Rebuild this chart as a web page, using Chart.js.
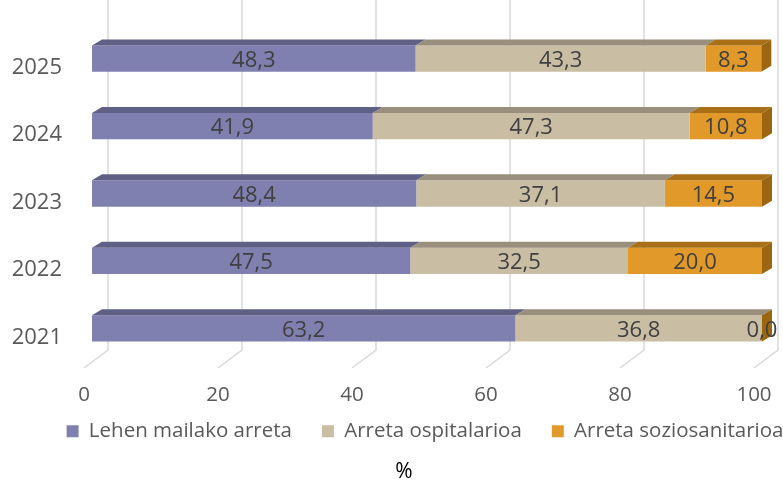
<!DOCTYPE html>
<html>
<head>
<meta charset="utf-8">
<script src="https://cdn.jsdelivr.net/npm/chart.js@4"></script>
<style>
  html, body { margin: 0; padding: 0; background: #fff; }
  #wrap { width: 783px; height: 481px; }
</style>
</head>
<body>
<div id="wrap"><canvas id="Chart-1"></canvas></div>
<script>
const years = ['2025', '2024', '2023', '2022', '2021'];
const lehen = [48.3, 41.9, 48.4, 47.5, 63.2];
const ospitalarioa = [43.3, 47.3, 37.1, 32.5, 36.8];
const soziosanitarioa = [8.3, 10.8, 14.5, 20.0, 0.0];
const xTicks = [0, 20, 40, 60, 80, 100];

const FONT = "'Open Sans', sans-serif";
const DEPTH_X = 10, DEPTH_Y = 6; // fake 3d depth

// legend/title placement tweaks (Excel puts them a bit off-centre)
const boxTweaks = {
    id: 'boxTweaks',
    beforeInit(chart) {
        const fit = chart.legend.fit;
        chart.legend.fit = function () {
            fit.bind(chart.legend)();
            this.height = 52;
        };
    },
    afterLayout(chart) {
        const lg = chart.legend;
        lg.top -= 17; lg.bottom -= 17;
        lg.left += 35; lg.right += 35;
        const t = chart.titleBlock;
        t.left += 14; t.right += 14;
        t.top += 2; t.bottom += 2;
    }
};

// back wall grid lines + floor diagonals
const backGrid = {
    id: 'backGrid',
    beforeDatasetsDraw(chart) {
        const ctx = chart.ctx, xs = chart.scales.x, area = chart.chartArea;
        ctx.save();
        ctx.strokeStyle = '#d9d9d9';
        ctx.lineWidth = 1.5;
        xTicks.forEach(v => {
            const px = xs.getPixelForValue(v);
            ctx.beginPath();
            ctx.moveTo(px + 16, 0);
            ctx.lineTo(px + 16, area.bottom - 12);
            ctx.lineTo(px - 8, area.bottom + 6);
            ctx.stroke();
        });
        ctx.restore();
    }
};

// top faces, right side and value labels
const bars3d = {
    id: 'bars3d',
    afterDatasetsDraw(chart) {
        const ctx = chart.ctx;
        const last = chart.data.datasets.length - 1;
        ctx.save();
        chart.data.datasets.forEach((ds, di) => {
            const meta = chart.getDatasetMeta(di);
            meta.data.forEach((bar, i) => {
                const x0 = bar.base, x1 = bar.x;
                const top = bar.y - bar.height / 2, bottom = bar.y + bar.height / 2;
                ctx.fillStyle = ds.topColor;
                ctx.beginPath();
                ctx.moveTo(x0, top);
                ctx.lineTo(x1, top);
                ctx.lineTo(x1 + DEPTH_X, top - DEPTH_Y);
                ctx.lineTo(x0 + DEPTH_X, top - DEPTH_Y);
                ctx.closePath();
                ctx.fill();
                if (di === last) {
                    ctx.fillStyle = ds.sideColor;
                    ctx.beginPath();
                    ctx.moveTo(x1, top);
                    ctx.lineTo(x1 + DEPTH_X, top - DEPTH_Y);
                    ctx.lineTo(x1 + DEPTH_X, bottom - DEPTH_Y);
                    ctx.lineTo(x1, bottom);
                    ctx.closePath();
                    ctx.fill();
                }
            });
        });
        ctx.font = '22px ' + FONT;
        ctx.fillStyle = '#404040';
        ctx.textAlign = 'center';
        ctx.textBaseline = 'middle';
        chart.data.datasets.forEach((ds, di) => {
            const meta = chart.getDatasetMeta(di);
            meta.data.forEach((bar, i) => {
                const cx = (bar.base + bar.x) / 2;
                ctx.fillText(ds.data[i].toFixed(1).replace('.', ','), cx, bar.y + 2);
            });
        });
        ctx.restore();
    }
};

new Chart(document.getElementById('Chart-1'), {
    type: 'bar',
    data: {
        labels: years,
        datasets: [{
            label: 'Lehen mailako arreta',
            data: lehen,
            backgroundColor: '#7f7fb0',
            topColor: '#5f6085',
            sideColor: '#5f6085'
        }, {
            label: 'Arreta ospitalarioa',
            data: ospitalarioa,
            backgroundColor: '#c9bda4',
            topColor: '#9a8e7c',
            sideColor: '#9a8e7c'
        }, {
            label: 'Arreta soziosanitarioa',
            data: soziosanitarioa,
            backgroundColor: '#e1992a',
            topColor: '#a86f16',
            sideColor: '#9c6610'
        }]
    },
    options: {
        indexAxis: 'y',
        responsive: true,
        maintainAspectRatio: false,
        animation: false,
        barPercentage: 0.39,
        categoryPercentage: 1,
        layout: {
            padding: { left: 0, right: 3, top: 25, bottom: 0 }
        },
        plugins: {
            legend: {
                position: 'bottom',
                labels: {
                    boxWidth: 12,
                    boxHeight: 12,
                    padding: 30,
                    color: '#595959',
                    font: { family: FONT, size: 20.5 }
                }
            },
            title: {
                display: true,
                position: 'bottom',
                text: '%',
                color: '#000',
                padding: { top: 0, bottom: 0 },
                font: { family: FONT, size: 21, weight: 'normal', lineHeight: 1 }
            },
            tooltip: { enabled: false }
        },
        scales: {
            x: {
                stacked: true,
                min: 0,
                max: 100,
                border: { display: false },
                grid: { display: false },
                afterFit(scale) {
                    scale.height = 46;
                    scale.paddingLeft = 0;
                    scale.paddingRight = 21;
                },
                ticks: {
                    stepSize: 20,
                    padding: 13,
                    labelOffset: -8,
                    color: '#595959',
                    font: { family: FONT, size: 20.5 }
                }
            },
            y: {
                stacked: true,
                border: { display: false },
                grid: { display: false },
                afterFit(scale) {
                    scale.width = 92;
                    scale.paddingTop = 0;
                    scale.paddingBottom = 0;
                },
                ticks: {
                    padding: 22,
                    labelOffset: 9,
                    color: '#595959',
                    font: { family: FONT, size: 22 }
                }
            }
        }
    },
    plugins: [boxTweaks, backGrid, bars3d]
});
</script>
</body>
</html>
